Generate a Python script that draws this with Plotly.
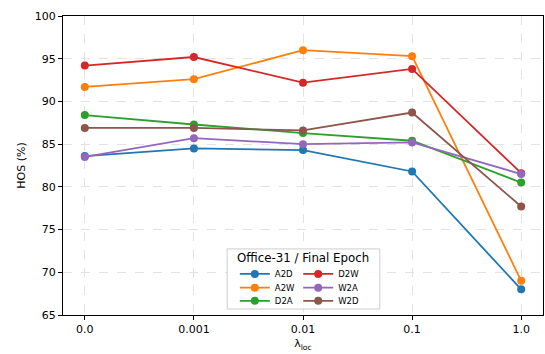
import plotly.graph_objects as go

# lambda_loc settings (categorical x axis)
lambda_labels = ["0.0", "0.001", "0.01", "0.1", "1.0"]

# HOS (%) per transfer task, Office-31, final epoch
a2d = [83.6, 84.5, 84.3, 81.8, 68.0]
a2w = [91.7, 92.6, 96.0, 95.3, 69.0]
d2a = [88.4, 87.3, 86.3, 85.4, 80.5]
d2w = [94.2, 95.2, 92.2, 93.8, 81.6]
w2a = [83.5, 85.7, 85.0, 85.2, 81.5]
w2d = [86.9, 86.9, 86.6, 88.7, 77.7]

# name, values, colour, legend slot (column, row)
series = [
    ("A2D", a2d, "#1f77b4", (0, 0)),
    ("A2W", a2w, "#ff7f0e", (0, 1)),
    ("D2A", d2a, "#2ca02c", (0, 2)),
    ("D2W", d2w, "#d62728", (1, 0)),
    ("W2A", w2a, "#9467bd", (1, 1)),
    ("W2D", w2d, "#8c564b", (1, 2)),
]

xpos = list(range(len(lambda_labels)))
font = "DejaVu Sans"

# two-column legend inside a framed box: one single-entry legend per slot
col_x = [0.358, 0.49]
row_y = [0.186, 0.140, 0.096]

fig = go.Figure()
legend_layouts = {}
for i, (name, vals, color, (col, row)) in enumerate(series):
    key = "legend" if i == 0 else f"legend{i + 1}"
    fig.add_trace(go.Scatter(
        x=xpos, y=vals, name=name, mode="lines+markers",
        line=dict(color=color, width=1.8),
        marker=dict(color=color, size=8),
        legend=key,
    ))
    legend_layouts[key] = dict(
        x=col_x[col], y=row_y[row], xanchor="left", yanchor="top",
        orientation="v",
        font=dict(size=8.5, family=font),
        bgcolor="rgba(0,0,0,0)", borderwidth=0,
        itemwidth=30,
    )

fig.update_layout(
    width=545, height=354,
    margin=dict(l=63, r=2, t=16, b=39),
    paper_bgcolor="white", plot_bgcolor="white",
    font=dict(family=font, size=11, color="black"),
    showlegend=True,
    xaxis=dict(
        range=[-0.2, 4.2],
        tickmode="array", tickvals=xpos, ticktext=lambda_labels,
        showgrid=True, gridcolor="#e3e3e3", griddash="dash", gridwidth=1,
        zeroline=False,
        showline=True, linecolor="black", linewidth=1, mirror=True,
        ticks="outside", ticklen=4, tickcolor="black",
        tickfont=dict(size=11),
        title=dict(text="λ<sub>loc</sub>", font=dict(size=11), standoff=4),
    ),
    yaxis=dict(
        range=[65, 100], dtick=5,
        showgrid=True, gridcolor="#e3e3e3", griddash="dash", gridwidth=1,
        zeroline=False,
        showline=True, linecolor="black", linewidth=1, mirror=True,
        ticks="outside", ticklen=4, tickcolor="black",
        tickfont=dict(size=11),
        title=dict(text="HOS (%)", font=dict(size=11), standoff=6),
    ),
    shapes=[dict(
        type="rect", xref="x domain", yref="y domain",
        x0=0.342, x1=0.660, y0=0.020, y1=0.221,
        line=dict(color="#cccccc", width=1),
        fillcolor="rgba(255,255,255,0.8)", layer="above",
    )],
    annotations=[dict(
        text="Office-31 / Final Epoch", xref="x domain", yref="y domain",
        x=0.5, y=0.19, xanchor="center", yanchor="middle",
        showarrow=False, font=dict(size=11.8, family=font),
    )],
)
fig.update_layout(**legend_layouts)

fig.write_html("out.html")
